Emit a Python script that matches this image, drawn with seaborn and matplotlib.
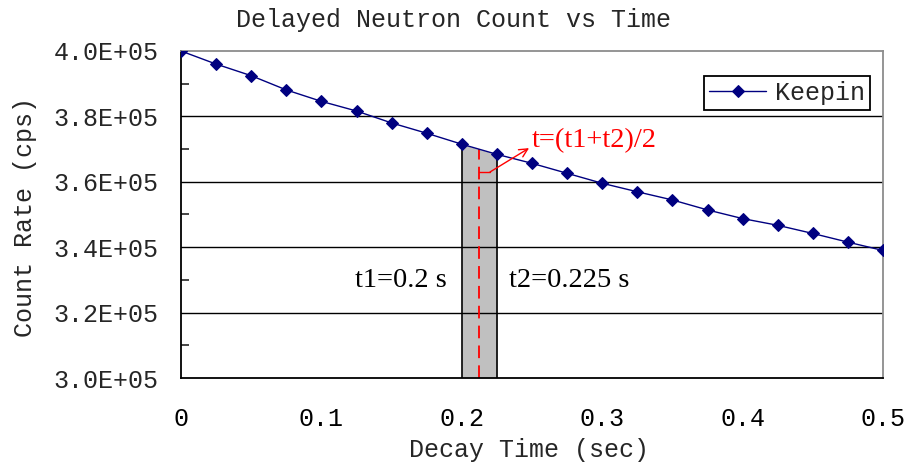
import matplotlib
matplotlib.use("Agg")
import matplotlib.pyplot as plt
import seaborn as sns
import numpy as np
import pandas as pd
from matplotlib.ticker import FuncFormatter, MultipleLocator, FixedLocator

# ---- data ----
time_s = [0.0, 0.025, 0.05, 0.075, 0.1, 0.125, 0.15, 0.175, 0.2, 0.225, 0.25,
          0.275, 0.3, 0.325, 0.35, 0.375, 0.4, 0.425, 0.45, 0.475, 0.5]
count_rate = [400000, 396000, 392450, 388100, 384600, 381650, 378000, 374850,
              371500, 368400, 365650, 362600, 359550, 356950, 354450, 351400,
              348750, 346700, 344200, 341550, 339000]
series_name = "Keepin"
t1 = 0.2
t2 = 0.225
x_ticks = [0, 0.1, 0.2, 0.3, 0.4, 0.5]
x_tick_labels = ["0", "0.1", "0.2", "0.3", "0.4", "0.5"]
y_grid = [320000, 340000, 360000, 380000]

df = pd.DataFrame({"Decay Time (sec)": time_s, "Count Rate (cps)": count_rate,
                   "series": series_name})

sns.set_style("white")
mono = ["Liberation Mono", "DejaVu Sans Mono"]
serif = ["Liberation Serif", "DejaVu Serif"]
plt.rcParams["font.family"] = mono

W, H = 907, 463
fig = plt.figure(figsize=(W / 100, H / 100), dpi=100)
L, R, T, B = 181, 883, 51, 378
ax = fig.add_axes([L / W, 1 - B / H, (R - L) / W, (B - T) / H])

navy = "#000080"

# shaded region between t1 and t2 under the curve
xs = np.array(time_s)
ys = np.array(count_rate, dtype=float)
mask = (xs >= t1 - 1e-9) & (xs <= t2 + 1e-9)
ax.fill_between(xs[mask], 300000, ys[mask], color="#C0C0C0", zorder=1, lw=0)
ax.vlines([t1, t2], 300000, [np.interp(t1, xs, ys), np.interp(t2, xs, ys)],
          colors="black", lw=1.2, zorder=2)

# gridlines
for g in y_grid:
    ax.axhline(g, color="black", lw=1.0, zorder=1.5)

# red dashed midpoint line
tm = (t1 + t2) / 2
ax.vlines([tm], 300000, np.interp(tm, xs, ys), colors="red", lw=1.3,
          linestyles=(0, (7, 4)), zorder=2.5)

sns.lineplot(data=df, x="Decay Time (sec)", y="Count Rate (cps)", hue="series",
             palette=[navy], marker="D", markersize=6, markeredgecolor=navy,
             linewidth=1.0, ax=ax, zorder=3, legend=True)

# arrow annotation
y_arrow = 363000
x_knee = 0.2201
ax.plot([tm, x_knee], [y_arrow, y_arrow], color="red", lw=1.0, zorder=4)
ax.annotate("", xy=(0.2479, 370300), xytext=(x_knee, y_arrow),
            arrowprops=dict(arrowstyle="->", color="red", lw=1.0,
                            shrinkA=0, shrinkB=0, mutation_scale=15), zorder=4)
ax.text(0.2495, 372700, "t=(t1+t2)/2", color="red", fontsize=20.5,
        family=serif, ha="left", va="center", zorder=5)
ax.text(0.1895, 329800, "t1=0.2 s", color="black", fontsize=20.5,
        family=serif, ha="right", va="center", zorder=5)
ax.text(0.2336, 329800, "t2=0.225 s", color="black", fontsize=20.5,
        family=serif, ha="left", va="center", zorder=5)

ax.set_xlim(0, 0.5)
ax.set_ylim(300000, 400000)
ax.xaxis.set_major_locator(FixedLocator(x_ticks))
ax.set_xticklabels(x_tick_labels)
ax.yaxis.set_major_locator(MultipleLocator(20000))
ax.yaxis.set_minor_locator(MultipleLocator(10000))
ax.yaxis.set_major_formatter(FuncFormatter(lambda v, p: f"{v:.1E}"))
ax.tick_params(axis="x", which="major", direction="in", length=7, width=1.2,
               pad=21, labelsize=18, colors="black")
ax.tick_params(axis="y", which="major", direction="in", length=0,
               pad=16, labelsize=18)
ax.tick_params(axis="y", which="minor", direction="in", length=6, width=1.2, left=True)
ax.set_xlabel("")
ax.set_ylabel("")

for s in ["left", "bottom"]:
    ax.spines[s].set_color("black")
    ax.spines[s].set_linewidth(1.3)
for s in ["top", "right"]:
    ax.spines[s].set_color("#8c8c8c")
    ax.spines[s].set_linewidth(1.3)
    ax.spines[s].set_visible(True)

leg = ax.legend(loc="upper right", bbox_to_anchor=(870 / W, 1 - 76 / H),
                bbox_transform=fig.transFigure, fontsize=18, frameon=True,
                fancybox=False, framealpha=1, edgecolor="black",
                borderpad=0.2, handlelength=2.3, handletextpad=0.35,
                borderaxespad=0)
leg.get_frame().set_linewidth(1.3)
leg.set_zorder(6)

fig.text(0.5, 1 - 20 / H, "Delayed Neutron Count vs Time", fontsize=18,
         ha="center", va="center")
fig.text(529 / W, 1 - 450 / H, "Decay Time (sec)", fontsize=18,
         ha="center", va="center")
fig.text(25 / W, 1 - 217 / H, "Count Rate (cps)", fontsize=18,
         ha="center", va="center", rotation=90)

fig.savefig("out.png", dpi=100)
